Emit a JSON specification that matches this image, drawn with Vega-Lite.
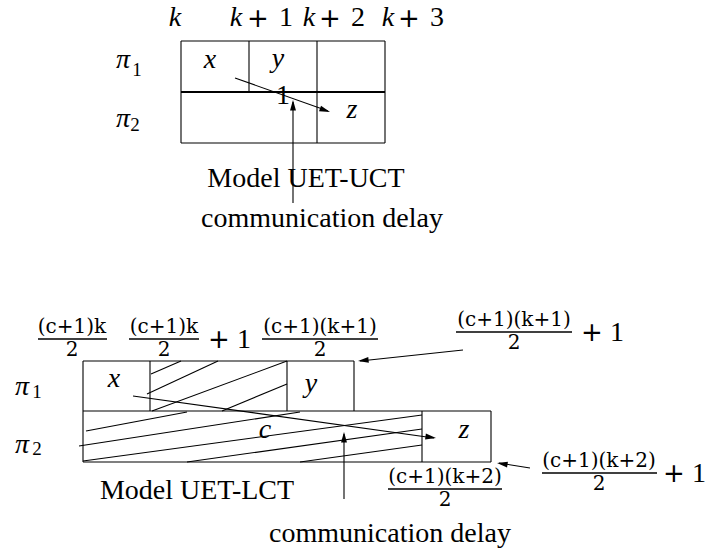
{
  "$schema": "https://vega.github.io/schema/vega-lite/v6.json",
  "width": 707,
  "height": 554,
  "padding": 0,
  "autosize": {"type": "none"},
  "background": "white",
  "config": {"view": {"stroke": null}},
  "datasets": {
    "segs": [
      {"x": 181, "y": 41, "x2": 385, "y2": 41},
      {"x": 181, "y": 143, "x2": 385, "y2": 143},
      {"x": 181, "y": 41, "x2": 181, "y2": 143},
      {"x": 385, "y": 41, "x2": 385, "y2": 143},
      {"x": 249, "y": 41, "x2": 249, "y2": 92},
      {"x": 317, "y": 41, "x2": 317, "y2": 143},
      {"x": 83, "y": 361, "x2": 354, "y2": 361},
      {"x": 354, "y": 361, "x2": 354, "y2": 411},
      {"x": 150, "y": 361, "x2": 150, "y2": 411},
      {"x": 287, "y": 361, "x2": 287, "y2": 411},
      {"x": 83, "y": 411, "x2": 491, "y2": 411},
      {"x": 83, "y": 462, "x2": 491, "y2": 462},
      {"x": 83, "y": 361, "x2": 83, "y2": 462},
      {"x": 491, "y": 411, "x2": 491, "y2": 462},
      {"x": 422, "y": 411, "x2": 422, "y2": 462},
      {"x": 151, "y": 374, "x2": 181, "y2": 361},
      {"x": 147, "y": 394, "x2": 218, "y2": 361},
      {"x": 152, "y": 411, "x2": 287, "y2": 361},
      {"x": 222, "y": 411, "x2": 287, "y2": 384},
      {"x": 86, "y": 431, "x2": 187, "y2": 412},
      {"x": 79, "y": 446, "x2": 300, "y2": 412},
      {"x": 83, "y": 461, "x2": 422, "y2": 415},
      {"x": 187, "y": 462, "x2": 422, "y2": 429},
      {"x": 300, "y": 462, "x2": 422, "y2": 445},
      {"x": 235, "y": 78, "x2": 328, "y2": 111},
      {"x": 293, "y": 203, "x2": 293, "y2": 102},
      {"x": 133, "y": 396, "x2": 434, "y2": 438},
      {"x": 344, "y": 499, "x2": 344, "y2": 434},
      {"x": 463, "y": 350, "x2": 360, "y2": 361},
      {"x": 530, "y": 468, "x2": 499, "y2": 463}
    ],
    "thick": [
      {"x": 181, "y": 92, "x2": 385, "y2": 92}
    ],
    "bars": [
      {"x": 38, "y": 339, "x2": 107, "y2": 339},
      {"x": 129, "y": 339, "x2": 199, "y2": 339},
      {"x": 262, "y": 339, "x2": 378, "y2": 339},
      {"x": 456, "y": 332, "x2": 572, "y2": 332},
      {"x": 388, "y": 489, "x2": 502, "y2": 489},
      {"x": 542, "y": 473, "x2": 657, "y2": 473}
    ],
    "heads": [
      {"x": 330, "y": 112, "ang": 19.7},
      {"x": 293, "y": 100, "ang": 270},
      {"x": 436, "y": 438, "ang": 7.9},
      {"x": 344, "y": 432, "ang": 270},
      {"x": 358, "y": 361, "ang": 174},
      {"x": 497, "y": 463, "ang": 188.6}
    ],
    "words": [
      {"t": "Model UET-UCT", "x": 306, "y": 187},
      {"t": "communication delay", "x": 322, "y": 227},
      {"t": "Model UET-LCT", "x": 197, "y": 499},
      {"t": "communication delay", "x": 390, "y": 542}
    ],
    "kvars": [
      {"t": "k", "x": 175, "y": 26},
      {"t": "k", "x": 236, "y": 26},
      {"t": "k", "x": 309, "y": 26},
      {"t": "k", "x": 388, "y": 26}
    ],
    "plus": [
      {"t": "+", "x": 258, "y": 27},
      {"t": "+", "x": 330, "y": 27},
      {"t": "+", "x": 409, "y": 27},
      {"t": "+", "x": 219, "y": 348},
      {"t": "+", "x": 592, "y": 341},
      {"t": "+", "x": 674, "y": 482}
    ],
    "digits": [
      {"t": "1", "x": 286, "y": 26},
      {"t": "2", "x": 358, "y": 26},
      {"t": "3", "x": 437, "y": 26},
      {"t": "1", "x": 283, "y": 104},
      {"t": "1", "x": 244, "y": 348},
      {"t": "1", "x": 617, "y": 341},
      {"t": "1", "x": 699, "y": 482}
    ],
    "vars": [
      {"t": "x", "x": 210, "y": 68},
      {"t": "y", "x": 278, "y": 67},
      {"t": "z", "x": 352, "y": 118},
      {"t": "x", "x": 114, "y": 387},
      {"t": "y", "x": 311, "y": 392},
      {"t": "z", "x": 464, "y": 438},
      {"t": "c", "x": 265, "y": 438},
      {"t": "π", "x": 123, "y": 68},
      {"t": "π", "x": 123, "y": 127},
      {"t": "π", "x": 22, "y": 395},
      {"t": "π", "x": 22, "y": 453}
    ],
    "subs": [
      {"t": "1", "x": 137, "y": 76},
      {"t": "2", "x": 135, "y": 131},
      {"t": "1", "x": 37, "y": 398},
      {"t": "2", "x": 37, "y": 455}
    ],
    "fracs": [
      {"t": "(c+1)k", "x": 72, "y": 333},
      {"t": "2", "x": 72, "y": 356},
      {"t": "(c+1)k", "x": 164, "y": 333},
      {"t": "2", "x": 164, "y": 356},
      {"t": "(c+1)(k+1)", "x": 320, "y": 333},
      {"t": "2", "x": 320, "y": 356},
      {"t": "(c+1)(k+1)", "x": 514, "y": 326},
      {"t": "2", "x": 514, "y": 349},
      {"t": "(c+1)(k+2)", "x": 445, "y": 483},
      {"t": "2", "x": 445, "y": 506},
      {"t": "(c+1)(k+2)", "x": 599, "y": 467},
      {"t": "2", "x": 599, "y": 490}
    ]
  },
  "encoding": {
    "x": {"field": "x", "type": "quantitative", "scale": {"domain": [0, 707], "nice": false, "zero": false}, "axis": null},
    "y": {"field": "y", "type": "quantitative", "scale": {"domain": [0, 554], "nice": false, "zero": false, "reverse": true}, "axis": null}
  },
  "layer": [
    {
      "data": {"name": "segs"},
      "mark": {"type": "rule", "color": "black", "strokeWidth": 1.1},
      "encoding": {"x2": {"field": "x2"}, "y2": {"field": "y2"}}
    },
    {
      "data": {"name": "thick"},
      "mark": {"type": "rule", "color": "black", "strokeWidth": 2},
      "encoding": {"x2": {"field": "x2"}, "y2": {"field": "y2"}}
    },
    {
      "data": {"name": "bars"},
      "mark": {"type": "rule", "color": "black", "strokeWidth": 1.6},
      "encoding": {"x2": {"field": "x2"}, "y2": {"field": "y2"}}
    },
    {
      "data": {"name": "heads"},
      "mark": {"type": "point", "shape": "M0,0L-1,-0.28L-1,0.28Z", "filled": true, "color": "black", "opacity": 1, "size": 450, "strokeWidth": 0},
      "encoding": {"angle": {"field": "ang", "type": "quantitative", "scale": null}}
    },
    {
      "data": {"name": "words"},
      "mark": {"type": "text", "font": "Liberation Serif", "fontSize": 28, "align": "center", "baseline": "alphabetic", "color": "black"},
      "encoding": {"text": {"field": "t"}}
    },
    {
      "data": {"name": "kvars"},
      "mark": {"type": "text", "font": "Liberation Serif", "fontStyle": "italic", "fontSize": 28, "align": "center", "baseline": "alphabetic", "color": "black"},
      "encoding": {"text": {"field": "t"}}
    },
    {
      "data": {"name": "plus"},
      "mark": {"type": "text", "font": "DejaVu Sans", "fontSize": 26, "align": "center", "baseline": "alphabetic", "color": "black"},
      "encoding": {"text": {"field": "t"}}
    },
    {
      "data": {"name": "digits"},
      "mark": {"type": "text", "font": "Liberation Serif", "fontSize": 28, "align": "center", "baseline": "alphabetic", "color": "black"},
      "encoding": {"text": {"field": "t"}}
    },
    {
      "data": {"name": "vars"},
      "mark": {"type": "text", "font": "Liberation Serif", "fontStyle": "italic", "fontSize": 28, "align": "center", "baseline": "alphabetic", "color": "black"},
      "encoding": {"text": {"field": "t"}}
    },
    {
      "data": {"name": "subs"},
      "mark": {"type": "text", "font": "Liberation Serif", "fontSize": 19, "align": "center", "baseline": "alphabetic", "color": "black"},
      "encoding": {"text": {"field": "t"}}
    },
    {
      "data": {"name": "fracs"},
      "mark": {"type": "text", "font": "DejaVu Serif", "fontSize": 20, "align": "center", "baseline": "alphabetic", "color": "black"},
      "encoding": {"text": {"field": "t"}}
    }
  ]
}
